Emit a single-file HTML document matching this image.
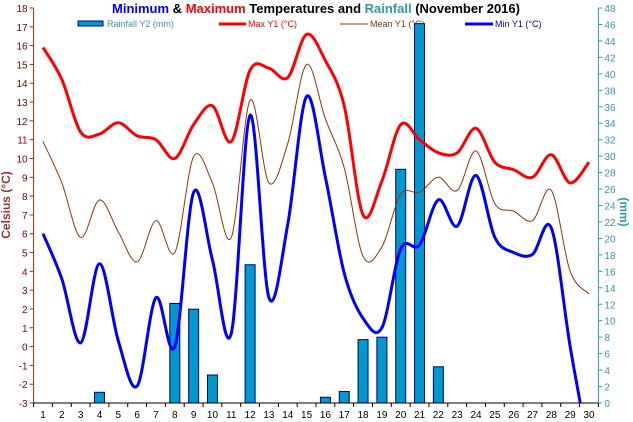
<!DOCTYPE html>
<html><head><meta charset="utf-8"><style>
html,body{margin:0;padding:0;background:#fff;overflow:hidden;width:633px;height:422px;}
svg{display:block;font-family:"Liberation Sans",Arial,sans-serif;}
</style></head><body>
<svg id="s" width="633" height="422" xmlns="http://www.w3.org/2000/svg">
<rect width="633" height="422" fill="#fff"/>
<text x="316" y="13" text-anchor="middle" font-size="13" font-weight="bold"><tspan fill="#0000ff">Minimum</tspan><tspan fill="#000"> &amp; </tspan><tspan fill="#ff0000">Maximum</tspan><tspan fill="#000"> Temperatures and </tspan><tspan fill="#3399aa">Rainfall</tspan><tspan fill="#000"> (November 2016)</tspan></text>
<rect x="78" y="21" width="25" height="5" fill="#0099cc" stroke="#000080" stroke-width="1"/>
<text x="107" y="27" font-size="9" fill="#3399aa">Rainfall Y2 (mm)</text>
<line x1="219" y1="24" x2="246" y2="24" stroke="#ff0000" stroke-width="3"/>
<text x="248" y="27" font-size="9" fill="#ff0000">Max Y1 (°C)</text>
<line x1="340" y1="24" x2="368" y2="24" stroke="#993300" stroke-width="1"/>
<text x="370" y="27" font-size="9" fill="#993300">Mean Y1 (°C)</text>
<line x1="465" y1="24" x2="493" y2="24" stroke="#0000ff" stroke-width="3"/>
<text x="495" y="27" font-size="9" fill="#0000aa">Min Y1 (°C)</text>
<text transform="translate(10,205) rotate(-90)" text-anchor="middle" font-size="12" font-weight="bold" fill="#993333">Celsius (°C)</text>
<text transform="translate(620,212) rotate(90)" text-anchor="middle" font-size="12" font-weight="bold" fill="#3399aa">(mm)</text>
<g id="g"></g>
</svg>
<script>
var ns="http://www.w3.org/2000/svg",g=document.getElementById("g");
function el(t,a,txt){var e=document.createElementNS(ns,t);for(var k in a)e.setAttribute(k,a[k]);if(txt!=null)e.textContent=txt;g.appendChild(e);return e;}
var L=33.6,R=598.4,T=8,B=403,dx=(R-L)/30;
function X(i){return L+dx*(i-0.5);}
function Y(v){return T+(18-v)*(B-T)/21;}
function YR(v){return B-v*(B-T)/48;}
var rain={4:1.3,8:12.1,9:11.4,10:3.4,12:16.8,16:0.7,17:1.4,18:7.7,19:8.0,20:28.4,21:46.1,22:4.4};
for(var d in rain){var x=X(+d);el("rect",{x:x-5,y:YR(rain[d]),width:10,height:B-YR(rain[d]),fill:"#0099cc",stroke:"#000080","stroke-width":1});}
el("line",{x1:L,y1:T,x2:L,y2:B,stroke:"#993300"});
el("line",{x1:R,y1:T,x2:R,y2:B,stroke:"#3399aa"});
el("line",{x1:L,y1:B,x2:R,y2:B,stroke:"#000"});
for(var v=-3;v<=18;v++){var y=Y(v);el("line",{x1:L-4,y1:y,x2:L,y2:y,stroke:"#993300"});el("text",{x:L-6,y:y+4,"font-size":10,"text-anchor":"end",fill:"#800000"},String(v));}
for(var v=0;v<=48;v+=2){var y=YR(v);el("line",{x1:R,y1:y,x2:R+4,y2:y,stroke:"#3399aa"});el("text",{x:R+6,y:y+4,"font-size":10,fill:"#3399aa"},String(v));}
for(var i=0;i<=30;i++){var x=L+dx*i;el("line",{x1:x,y1:B,x2:x,y2:B+4,stroke:"#000"});}
for(var i=1;i<=30;i++)el("text",{x:X(i),y:B+15,"font-size":10,"text-anchor":"middle",fill:"#000"},String(i));
var cp=document.createElementNS(ns,"clipPath");cp.setAttribute("id","cp");var cr=document.createElementNS(ns,"rect");cr.setAttribute("x",L);cr.setAttribute("y",T-5);cr.setAttribute("width",R-L);cr.setAttribute("height",B-T+5);cp.appendChild(cr);g.appendChild(cp);
function path(vals,col,w){var p=vals.map(function(v,i){return [X(i+1),Y(v)];});var d="M"+p[0][0]+","+p[0][1];
for(var i=0;i<p.length-1;i++){var p0=p[i-1]||p[i],p1=p[i],p2=p[i+1],p3=p[i+2]||p2;var t=1/6;
d+=" C"+(p1[0]+(p2[0]-p0[0])*t)+","+(p1[1]+(p2[1]-p0[1])*t)+" "+(p2[0]-(p3[0]-p1[0])*t)+","+(p2[1]-(p3[1]-p1[1])*t)+" "+p2[0]+","+p2[1];}
el("path",{d:d,fill:"none",stroke:col,"stroke-width":w,"clip-path":"url(#cp)"});}
path([15.9,14.2,11.4,11.3,11.9,11.2,11.0,10.0,11.8,12.8,10.9,14.7,14.8,14.3,16.6,15.2,12.8,7.0,8.8,11.8,11.0,10.3,10.3,11.6,9.8,9.4,9.0,10.2,8.7,9.8],"#ff0000",3);
path([10.9,8.7,5.8,7.8,6.1,4.5,6.7,5.0,10.1,8.7,5.8,13.1,8.7,10.8,15.0,12.1,9.5,4.8,5.3,8.1,8.2,9.0,8.3,10.4,7.6,7.2,6.7,8.3,4.0,2.8],"#993300",1);
path([6.0,3.6,0.2,4.4,0.3,-2.1,2.6,0.0,8.2,4.6,0.7,12.3,2.6,6.5,13.3,9.0,3.9,1.5,1.0,5.2,5.4,7.8,6.4,9.1,5.8,5.0,4.9,6.3,0.0,-5.5],"#0000ff",3);
</script>
</body></html>
